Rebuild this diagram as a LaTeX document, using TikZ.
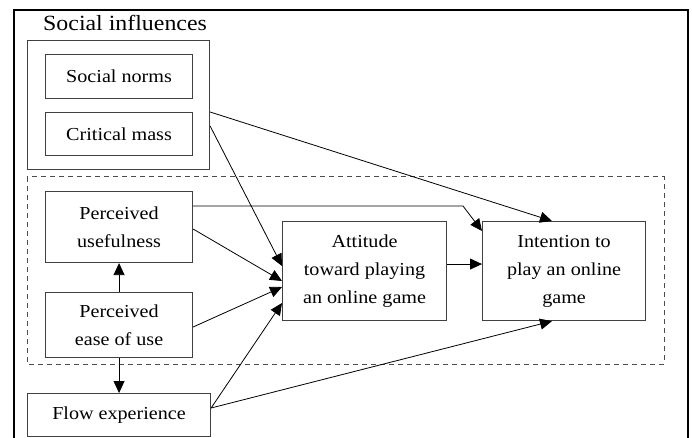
\documentclass[tikz,border=0pt]{standalone}
\usepackage{fontspec}
\setmainfont[FakeStretch=1.1]{Liberation Serif}
\usetikzlibrary{arrows.meta,calc}
\begin{document}
\begin{tikzpicture}[x=1pt,y=-1pt,
  box/.style={draw=black!75, line width=1.1pt, inner sep=0pt, align=center,
    font=\fontsize{18.3}{28}\selectfont, anchor=north west},
  link/.style={line width=0.8pt, -{Triangle[length=12pt,width=11pt]}}]
\useasboundingbox (0,0) rectangle (692,438);
\draw[line width=2.7pt] (14,440) -- (14,10) -- (688,10) -- (688,440);
\draw[black!70, line width=1pt, dash pattern=on 5pt off 4pt] (27,177) rectangle (664,364);
\node[anchor=base west, font=\fontsize{21.7}{24}\selectfont, inner sep=0pt] (title) at (43,31) {Social influences};
\node[box, minimum width=182pt, minimum height=129pt] (si) at (27,40) {};
\node[box, minimum width=147pt, minimum height=44pt] (sn) at (45,54) {Social norms};
\node[box, minimum width=147pt, minimum height=43pt] (cm) at (45,112) {Critical mass};
\node[box, minimum width=147pt, minimum height=71pt] (pu) at (45,191) {Perceived\\usefulness};
\node[box, minimum width=147pt, minimum height=65pt] (peu) at (45,292) {Perceived\\ease of use};
\node[box, minimum width=183pt, minimum height=43pt] (flow) at (27,393) {Flow experience};
\node[box, minimum width=164pt, minimum height=99pt] (att) at (282,221) {Attitude\\toward playing\\an online game};
\node[box, minimum width=163pt, minimum height=99pt] (int) at (482,221) {Intention to\\play an online\\game};
\draw[link] ([yshift=-72pt]si.north east) -- ([xshift=70pt]int.north west);
\draw[link] ([yshift=-86pt]si.north east) -- ([yshift=-45pt]att.north west);
\draw[link] ([yshift=-15pt]pu.north east) -- ([xshift=-19pt,yshift=15pt]int.north west) -- ([yshift=-10pt]int.north west);
\draw[link] ([yshift=-38pt]pu.north east) -- ([yshift=-60pt]att.north west);
\draw[link] ([yshift=-35pt]peu.north east) -- ([yshift=-66pt]att.north west);
\draw[link] ([yshift=-15pt]flow.north east) -- ([yshift=-82pt]att.north west);
\draw[link] ([yshift=-15pt]flow.north east) -- ([xshift=70pt]int.south west);
\draw[link] ([yshift=7pt]att.east) -- ([yshift=7pt]int.west);
\draw[link] (peu.north) -- (pu.south);
\draw[link] (peu.south) -- (flow.north);
\end{tikzpicture}
\end{document}
